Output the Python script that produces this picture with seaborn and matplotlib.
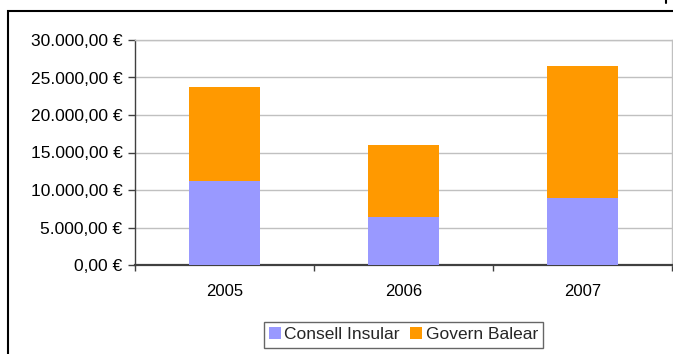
import matplotlib
matplotlib.use("Agg")
import matplotlib.pyplot as plt
import seaborn as sns
import pandas as pd
from matplotlib.patches import Rectangle, Patch
from matplotlib.ticker import FuncFormatter, FixedLocator
from matplotlib.lines import Line2D

years = ["2005", "2006", "2007"]
consell_insular = [11200, 6400, 8980]
govern_balear = [12490, 9600, 17550]
series_names = ["Consell Insular", "Govern Balear"]
colors = ["#9999FF", "#FF9900"]

totals = [a + b for a, b in zip(consell_insular, govern_balear)]
df = pd.DataFrame({"year": years, "consell": consell_insular, "total": totals})

sns.set_style("white")
plt.rcParams["font.family"] = ["Liberation Sans", "DejaVu Sans"]

W, H = 673, 354
fig = plt.figure(figsize=(W / 100, H / 100), dpi=100)
ax = fig.add_axes([135 / W, (H - 265) / H, (672 - 135) / W, 225 / H])

sns.barplot(data=df, x="year", y="total", color=colors[1], width=0.4,
            saturation=1, linewidth=0, edgecolor="none", ax=ax, zorder=3)
sns.barplot(data=df, x="year", y="consell", color=colors[0], width=0.4,
            saturation=1, linewidth=0, edgecolor="none", ax=ax, zorder=3)

ax.set_xlim(-0.5, 2.5)
ax.set_ylim(0, 30000)
ax.set_yticks(range(0, 30001, 5000))

def eur(v, pos):
    s = f"{v:,.2f}".replace(",", "X").replace(".", ",").replace("X", ".")
    return s + " €"

ax.yaxis.set_major_formatter(FuncFormatter(eur))
ax.set_xlabel("")
ax.set_ylabel("")
ax.grid(axis="y", color="#c0c0c0", linewidth=1, zorder=0)
ax.set_axisbelow(True)

for s in ["left", "bottom"]:
    ax.spines[s].set_color("#404040")
ax.spines["left"].set_linewidth(1.0)
ax.spines["bottom"].set_linewidth(1.6)
for s in ["top", "right"]:
    ax.spines[s].set_color("#c0c0c0")
    ax.spines[s].set_linewidth(1.0)

ax.tick_params(axis="y", direction="out", length=5, width=1, color="#404040",
               pad=4, labelsize=12.5, labelcolor="black", left=True)
ax.tick_params(axis="x", which="major", length=0, pad=14, labelsize=12,
               labelcolor="black")
ax.xaxis.set_minor_locator(FixedLocator([-0.5, 0.5, 1.5, 2.5]))
ax.tick_params(axis="x", which="minor", direction="out", length=4, width=1,
               color="#404040", bottom=True)

handles = [Patch(facecolor=c, edgecolor="none", label=n)
           for c, n in zip(colors, series_names)]
leg = fig.legend(handles=handles, loc="upper center",
                 bbox_to_anchor=(403.5 / W, 1 - 322 / H), ncol=2, fontsize=12.5,
                 frameon=True, fancybox=False, handlelength=0.7,
                 handleheight=0.7, handletextpad=0.2, columnspacing=0.6,
                 borderpad=0.3, borderaxespad=0)
leg.get_frame().set_edgecolor("#404040")
leg.get_frame().set_linewidth(1.0)

fig.add_artist(Rectangle((8 / W, -0.2), 1.2, 1.2 - 11 / H,
                         transform=fig.transFigure, fill=False,
                         edgecolor="black", linewidth=1.5))
fig.add_artist(Line2D([666 / W, 666 / W], [1, 1 - 3 / H],
                      transform=fig.transFigure, color="black", linewidth=1.5))

fig.savefig("out.png", dpi=100)
